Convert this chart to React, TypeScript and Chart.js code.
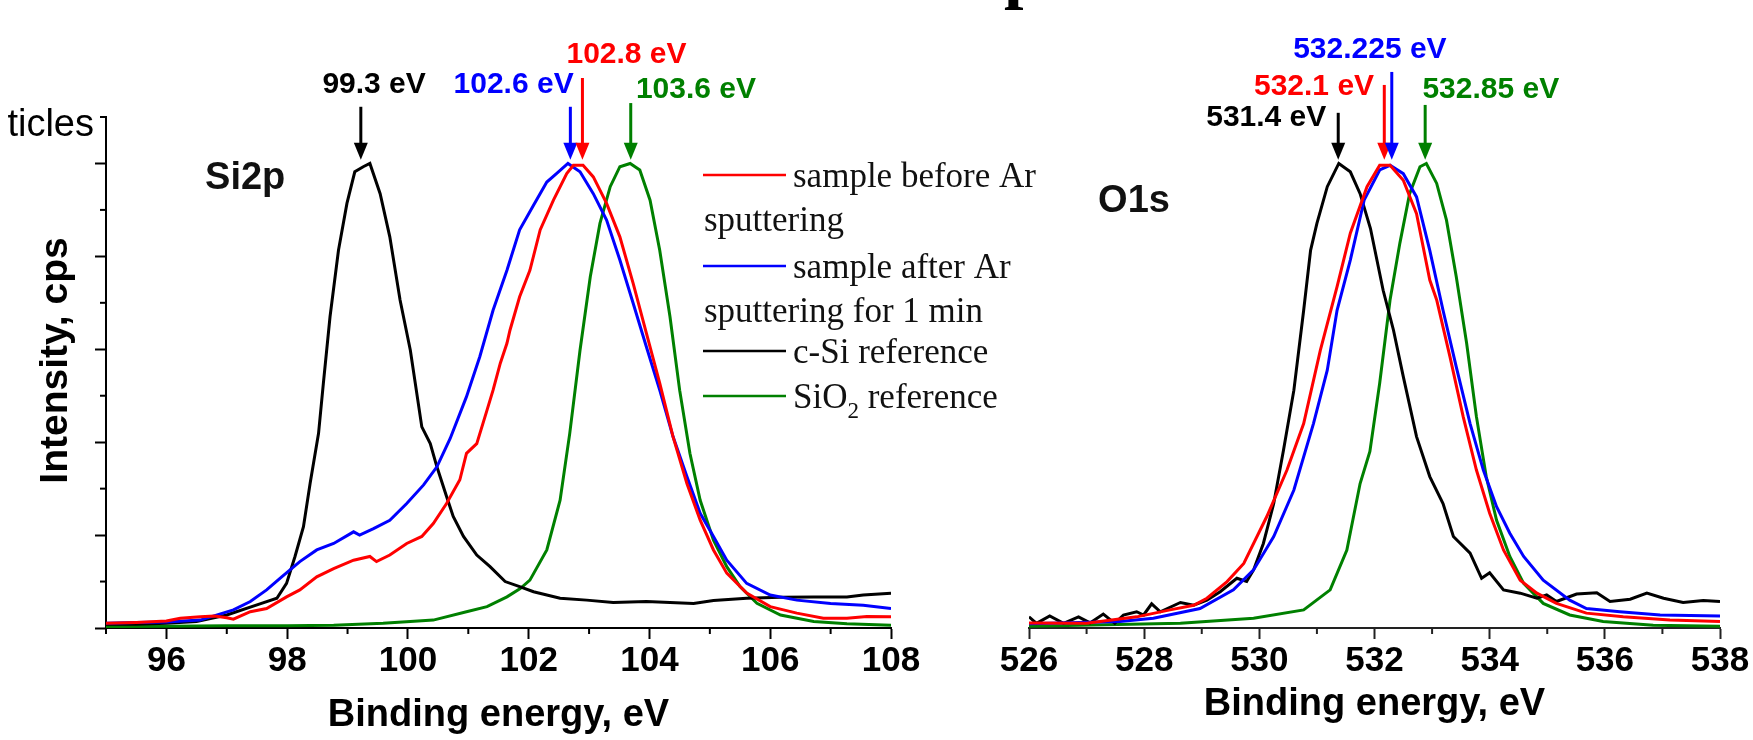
import React, { useEffect, useRef } from 'react';
import { Chart, registerables } from 'chart.js';

Chart.register(...registerables);

type Pt = [number, number];

// ---------- Si2p panel (binding energy eV, normalised intensity) ----------
const siBeforeAr: Pt[] = [
  [95.0, 0.1], [95.5, 0.12], [96.0, 0.15], [96.23, 0.21], [96.56, 0.24], [96.8, 0.26], [97.0, 0.22], [97.11, 0.19],
  [97.39, 0.35], [97.66, 0.42], [97.99, 0.67], [98.21, 0.82], [98.49, 1.1], [98.77, 1.28], [99.1, 1.46], [99.37, 1.54],
  [99.48, 1.43], [99.7, 1.57], [99.98, 1.82], [100.23, 1.97], [100.42, 2.25], [100.64, 2.68], [100.86, 3.19], [100.97, 3.76],
  [101.14, 3.97], [101.31, 4.69], [101.41, 5.12], [101.53, 5.7], [101.64, 6.13], [101.69, 6.41], [101.85, 7.13], [102.02, 7.7],
  [102.19, 8.57], [102.41, 9.21], [102.63, 9.78], [102.74, 9.96], [102.9, 9.96], [103.07, 9.71], [103.29, 9.14], [103.51, 8.42],
  [103.73, 7.42], [103.95, 6.34], [104.17, 5.27], [104.39, 4.12], [104.62, 3.11], [104.84, 2.32], [105.06, 1.68], [105.28, 1.18],
  [105.61, 0.75], [106.0, 0.46], [106.44, 0.32], [106.88, 0.21], [107.27, 0.21], [107.6, 0.25], [108.0, 0.24],
];
const siAfterAr: Pt[] = [
  [95.0, 0.1], [95.5, 0.12], [96.0, 0.13], [96.56, 0.17], [97.11, 0.39], [97.39, 0.57], [97.66, 0.82], [97.91, 1.1],
  [98.21, 1.43], [98.49, 1.68], [98.77, 1.82], [99.1, 2.07], [99.2, 2.0], [99.43, 2.14], [99.7, 2.32], [99.98, 2.68],
  [100.26, 3.08], [100.48, 3.47], [100.7, 4.08], [100.97, 4.98], [101.19, 5.84], [101.41, 6.84], [101.64, 7.7], [101.85, 8.57],
  [102.08, 9.1], [102.3, 9.6], [102.46, 9.78], [102.65, 10.0], [102.85, 9.82], [103.07, 9.35], [103.29, 8.78], [103.51, 7.92],
  [103.73, 6.99], [103.95, 6.05], [104.17, 5.12], [104.39, 4.12], [104.62, 3.26], [104.84, 2.47], [105.06, 1.97], [105.28, 1.46],
  [105.61, 0.96], [106.0, 0.71], [106.44, 0.6], [107.0, 0.53], [107.54, 0.49], [108.0, 0.42],
];
const siCSiRef: Pt[] = [
  [95.0, 0.08], [95.5, 0.08], [96.0, 0.1], [96.5, 0.14], [97.0, 0.28], [97.55, 0.52], [97.83, 0.64], [97.99, 0.96],
  [98.13, 1.54], [98.27, 2.18], [98.38, 3.11], [98.52, 4.19], [98.6, 5.27], [98.71, 6.7], [98.85, 8.13], [98.99, 9.14],
  [99.12, 9.82], [99.26, 9.93], [99.37, 10.0], [99.54, 9.35], [99.7, 8.42], [99.87, 7.06], [100.04, 5.98], [100.23, 4.33],
  [100.37, 3.97], [100.48, 3.47], [100.64, 2.83], [100.75, 2.4], [100.92, 1.97], [101.14, 1.57], [101.36, 1.32], [101.61, 1.0],
  [101.85, 0.89], [102.08, 0.78], [102.52, 0.64], [102.96, 0.6], [103.4, 0.55], [103.95, 0.57], [104.73, 0.53], [105.06, 0.59],
  [105.61, 0.64], [106.17, 0.66], [106.72, 0.67], [107.27, 0.67], [107.54, 0.71], [108.0, 0.75],
];
const siSiO2Ref: Pt[] = [
  [95.0, 0.03], [96.0, 0.04], [97.0, 0.05], [98.0, 0.05], [98.77, 0.06], [99.59, 0.1], [100.42, 0.17], [100.97, 0.35],
  [101.31, 0.46], [101.64, 0.67], [101.86, 0.85], [102.02, 1.03], [102.3, 1.68], [102.52, 2.75], [102.68, 4.19], [102.85, 5.98],
  [103.02, 7.56], [103.18, 8.71], [103.35, 9.5], [103.51, 9.93], [103.68, 10.0], [103.84, 9.86], [104.01, 9.21], [104.17, 8.13],
  [104.34, 6.7], [104.5, 5.12], [104.67, 3.76], [104.84, 2.75], [105.06, 1.89], [105.28, 1.32], [105.5, 0.89], [105.78, 0.53],
  [106.17, 0.28], [106.72, 0.14], [107.27, 0.09], [108.0, 0.06],
];

// ---------- O1s panel ----------
const oBeforeAr: Pt[] = [
  [526.0, 0.11], [527.0, 0.1], [527.87, 0.24], [528.45, 0.39], [528.86, 0.49], [529.09, 0.64], [529.44, 1.0], [529.73, 1.39],
  [530.13, 2.4], [530.48, 3.4], [530.77, 4.4], [531.06, 5.98], [531.35, 7.35], [531.58, 8.5], [531.87, 9.5], [532.09, 9.96],
  [532.27, 9.96], [532.5, 9.64], [532.73, 8.92], [532.96, 7.49], [533.08, 7.06], [533.31, 5.84], [533.54, 4.55], [533.77, 3.4],
  [534.0, 2.47], [534.24, 1.68], [534.53, 1.03], [534.82, 0.75], [535.16, 0.53], [535.68, 0.32], [536.32, 0.24], [537.13, 0.17],
  [538.0, 0.14],
];
const oAfterAr: Pt[] = [
  [526.0, 0.09], [527.58, 0.14], [528.16, 0.21], [528.97, 0.42], [529.55, 0.82], [529.9, 1.25], [530.25, 1.97], [530.6, 2.97],
  [530.94, 4.4], [531.18, 5.55], [531.35, 6.84], [531.58, 7.92], [531.82, 9.21], [532.09, 9.86], [532.27, 9.96], [532.5, 9.78],
  [532.73, 9.28], [532.96, 8.13], [533.19, 6.84], [533.42, 5.62], [533.66, 4.4], [533.89, 3.4], [534.12, 2.61], [534.35, 2.04],
  [534.59, 1.54], [534.93, 1.03], [535.39, 0.6], [535.68, 0.42], [536.26, 0.35], [536.96, 0.28], [538.0, 0.26],
];
const oCSiRef: Pt[] = [
  [526.0, 0.24], [526.13, 0.1], [526.36, 0.26], [526.6, 0.1], [526.86, 0.24], [527.06, 0.11], [527.29, 0.3], [527.49, 0.1],
  [527.64, 0.28], [527.87, 0.35], [527.99, 0.28], [528.13, 0.52], [528.28, 0.35], [528.63, 0.55], [528.86, 0.49], [529.09, 0.6],
  [529.32, 0.78], [529.61, 1.07], [529.78, 1.0], [529.9, 1.25], [530.07, 1.82], [530.25, 2.68], [530.42, 3.83], [530.6, 5.12],
  [530.77, 6.84], [530.89, 8.13], [531.0, 8.71], [531.18, 9.5], [531.38, 10.0], [531.58, 9.82], [531.75, 9.35], [531.93, 8.6],
  [532.15, 7.27], [532.33, 6.41], [532.5, 5.41], [532.73, 4.12], [532.96, 3.26], [533.19, 2.68], [533.37, 1.97], [533.66, 1.61],
  [533.86, 1.07], [534.0, 1.19], [534.24, 0.82], [534.53, 0.75], [534.82, 0.64], [534.99, 0.71], [535.16, 0.57], [535.51, 0.73],
  [535.86, 0.76], [536.09, 0.57], [536.44, 0.62], [536.73, 0.75], [537.02, 0.64], [537.36, 0.55], [537.71, 0.59], [538.0, 0.57],
];
const oSiO2Ref: Pt[] = [
  [526.0, 0.04], [528.63, 0.1], [529.9, 0.21], [530.77, 0.39], [531.23, 0.82], [531.52, 1.68], [531.75, 3.11], [531.92, 3.8],
  [532.09, 5.27], [532.27, 7.06], [532.44, 8.28], [532.61, 9.35], [532.79, 9.93], [532.9, 10.0], [533.08, 9.57], [533.25, 8.78],
  [533.42, 7.56], [533.6, 6.13], [533.77, 4.55], [533.94, 3.26], [534.12, 2.32], [534.35, 1.54], [534.59, 0.96], [534.93, 0.53],
  [535.39, 0.28], [535.97, 0.14], [536.84, 0.06], [538.0, 0.04],
];

const siXRange = [95, 108];
const oXRange = [526, 538];
const yRange = [0, 11];

const seriesNames = [
  'sample before Ar sputtering',
  'sample after Ar sputtering for 1 min',
  'c-Si reference',
  'SiO2 reference',
];

// peak annotations
const siPeakText = ['99.3 eV', '102.6 eV', '102.8 eV', '103.6 eV'];
const siPeakX = [99.22, 102.69, 102.89, 103.69];
const oPeakText = ['531.4 eV', '532.1 eV', '532.225 eV', '532.85 eV'];
const oPeakX = [531.37, 532.17, 532.3, 532.88];

// ---------- styles / layout ----------
const W = 1753;
const H = 740;
const SANS = '"Liberation Sans", Arial, sans-serif';
const SERIF = '"Liberation Serif", "Times New Roman", serif';
const RED = '#ff0000';
const BLUE = '#0000ff';
const BLACK = '#000000';
const GREEN = '#008000';

const siPeakStyle = [
  { color: BLACK, lx: 99.44, ly: 11.69, top: 11.22 },
  { color: BLUE, lx: 101.75, ly: 11.69, top: 11.22 },
  { color: RED, lx: 103.62, ly: 12.34, top: 11.84 },
  { color: GREEN, lx: 104.77, ly: 11.58, top: 11.3 },
];
const oPeakStyle = [
  { color: BLACK, lx: 530.12, ly: 10.98, top: 11.09 },
  { color: RED, lx: 530.95, ly: 11.65, top: 11.69 },
  { color: BLUE, lx: 531.92, ly: 12.44, top: 11.97 },
  { color: GREEN, lx: 534.02, ly: 11.58, top: 11.26 },
];
const ARROW_TIP = 10.08;

const isMajor = (v: number) => Math.round(v) % 2 === 0;

function makeDecor(spec: any) {
  return {
    id: 'xpsDecor',
    afterDraw(chart: any) {
      const ctx: CanvasRenderingContext2D = chart.ctx;
      const xs = chart.scales.x;
      const ys = chart.scales.y;
      ctx.save();
      const line = (x1: number, y1: number, x2: number, y2: number) => {
        ctx.beginPath();
        ctx.moveTo(x1, y1);
        ctx.lineTo(x2, y2);
        ctx.stroke();
      };
      // minor ticks
      ctx.strokeStyle = spec.axisColor;
      ctx.lineWidth = 2;
      xs.ticks.forEach((t: any) => {
        if (!isMajor(t.value)) {
          const px = xs.getPixelForValue(t.value);
          line(px, xs.top, px, xs.top + 6);
        }
      });
      if (ys.options.display) {
        ys.ticks.forEach((t: any) => {
          if (!isMajor(t.value)) {
            const py = ys.getPixelForValue(t.value);
            line(ys.right - 6, py, ys.right, py);
          }
        });
      }
      // peak arrows + labels
      spec.peakX.forEach((px0: number, i: number) => {
        const st = spec.peakStyle[i];
        const px = xs.getPixelForValue(px0);
        const top = ys.getPixelForValue(st.top);
        const tip = ys.getPixelForValue(ARROW_TIP);
        ctx.strokeStyle = st.color;
        ctx.fillStyle = st.color;
        ctx.lineWidth = 3;
        line(px, top, px, tip - 14);
        ctx.beginPath();
        ctx.moveTo(px - 7, tip - 17);
        ctx.lineTo(px + 7, tip - 17);
        ctx.lineTo(px, tip);
        ctx.closePath();
        ctx.fill();
        ctx.font = `bold 30px ${SANS}`;
        ctx.textAlign = 'center';
        ctx.textBaseline = 'middle';
        ctx.fillText(spec.peakText[i], xs.getPixelForValue(st.lx), ys.getPixelForValue(st.ly));
      });
      // panel label
      ctx.fillStyle = '#111';
      ctx.font = `bold 38px ${SANS}`;
      ctx.textAlign = 'left';
      ctx.textBaseline = 'alphabetic';
      ctx.fillText(spec.panelLabel.text, xs.getPixelForValue(spec.panelLabel.x), ys.getPixelForValue(spec.panelLabel.y));
      // y axis title
      if (spec.yTitle) {
        ctx.save();
        ctx.translate(spec.yTitle.x, (chart.chartArea.top + chart.chartArea.bottom) / 2 - 12);
        ctx.rotate(-Math.PI / 2);
        ctx.font = `bold 39px ${SANS}`;
        ctx.textAlign = 'center';
        ctx.textBaseline = 'middle';
        ctx.fillStyle = '#000';
        ctx.fillText(spec.yTitle.text, 0, 0);
        ctx.restore();
      }
      // legend
      if (spec.legend) {
        const lg = spec.legend;
        ctx.font = `35px ${SERIF}`;
        ctx.textBaseline = 'alphabetic';
        ctx.textAlign = 'left';
        let row = 0;
        lg.items.forEach((it: any) => {
          const base = lg.baseline0 + row * lg.rowStep + (it.extraShift || 0);
          ctx.strokeStyle = it.color;
          ctx.lineWidth = 2.5;
          line(lg.lineX0, base - 12, lg.lineX1, base - 12);
          ctx.fillStyle = '#111';
          if (it.sub) {
            let x = lg.textX;
            ctx.font = `35px ${SERIF}`;
            ctx.fillText(it.lines[0], x, base);
            x += ctx.measureText(it.lines[0]).width;
            ctx.font = `23px ${SERIF}`;
            ctx.fillText(it.sub, x, base + 10);
            x += ctx.measureText(it.sub).width;
            ctx.font = `35px ${SERIF}`;
            ctx.fillText(it.after, x, base);
            row += 1;
          } else {
            it.lines.forEach((t: string, k: number) => {
              ctx.fillText(t, k === 0 ? lg.textX : lg.wrapX, base + k * lg.rowStep);
            });
            row += it.lines.length;
          }
        });
      }
      // clipped texts from the surrounding figure
      (spec.extraTexts || []).forEach((t: any) => {
        ctx.font = t.font;
        ctx.fillStyle = '#000';
        ctx.textAlign = t.align;
        ctx.textBaseline = 'alphabetic';
        ctx.fillText(t.text, t.x, t.y);
      });
      ctx.restore();
    },
  };
}

function axisX(range: number[], titlePadBottom: number, axisColor: string) {
  return {
    type: 'linear',
    min: range[0],
    max: range[1],
    ticks: {
      stepSize: 1,
      autoSkip: false,
      maxRotation: 0,
      minRotation: 0,
      padding: 1,
      color: '#000',
      font: { family: SANS, size: 35, weight: 'bold' },
      callback: (v: any) => (isMajor(Number(v)) ? String(v) : ''),
    },
    grid: {
      drawOnChartArea: false,
      drawTicks: true,
      tickLength: 11,
      tickWidth: 2,
      tickColor: (c: any) => (c.tick && isMajor(c.tick.value) ? axisColor : 'rgba(0,0,0,0)'),
    },
    border: { display: true, color: axisColor, width: 2 },
    title: {
      display: true,
      text: 'Binding energy, eV',
      color: '#000',
      font: { family: SANS, size: 38, weight: 'bold' },
      padding: { top: 0, bottom: titlePadBottom },
    },
    afterFit: (s: any) => {
      s.height = 112;
    },
  };
}

function makeDatasets(a: Pt[], b: Pt[], c: Pt[], d: Pt[]) {
  const cols = [RED, BLUE, BLACK, GREEN];
  return [a, b, c, d].map((arr, i) => ({
    label: seriesNames[i],
    data: arr.map(([x, y]) => ({ x, y })),
    borderColor: cols[i],
    backgroundColor: cols[i],
    borderWidth: 3,
    pointRadius: 0,
    fill: false,
    tension: 0,
  }));
}

function leftConfig(): any {
  const decor = makeDecor({
    axisColor: '#000',
    peakX: siPeakX,
    peakText: siPeakText,
    peakStyle: siPeakStyle,
    panelLabel: { text: 'Si2p', x: 96.64, y: 9.45 },
    yTitle: { text: 'Intensity, cps', x: 56 },
    legend: {
      lineX0: 703,
      lineX1: 786,
      textX: 793,
      wrapX: 704,
      baseline0: 187,
      rowStep: 44,
      items: [
        { color: RED, lines: ['sample before Ar', 'sputtering'] },
        { color: BLUE, lines: ['sample after Ar', 'sputtering for 1 min'], extraShift: 3 },
        { color: BLACK, lines: ['c-Si reference'], extraShift: 0 },
        { color: GREEN, lines: ['SiO'], sub: '2', after: ' reference', extraShift: 1 },
      ],
    },
    extraTexts: [{ text: 'ticles', x: 94, y: 136, align: 'right', font: `38px ${SANS}` }],
  });
  return {
    type: 'line',
    data: { datasets: makeDatasets(siBeforeAr, siAfterAr, siCSiRef, siSiO2Ref) },
    plugins: [decor],
    options: {
      responsive: false,
      animation: false,
      events: [],
      layout: { padding: { left: 10, right: W - 891, top: 117, bottom: 0 } },
      plugins: { legend: { display: false }, tooltip: { enabled: false }, title: { display: false } },
      scales: {
        x: axisX(siXRange, 2, '#000'),
        y: {
          type: 'linear',
          min: yRange[0],
          max: yRange[1],
          ticks: { stepSize: 1, display: false },
          grid: {
            drawOnChartArea: false,
            drawTicks: true,
            tickLength: 11,
            tickWidth: 2,
            tickColor: (c: any) => (c.tick && isMajor(c.tick.value) ? '#000' : 'rgba(0,0,0,0)'),
          },
          border: { display: true, color: '#000', width: 2 },
          afterFit: (s: any) => {
            s.width = 96;
          },
        },
      },
    },
  };
}

function rightConfig(): any {
  const decor = makeDecor({
    axisColor: '#222',
    peakX: oPeakX,
    peakText: oPeakText,
    peakStyle: oPeakStyle,
    panelLabel: { text: 'O1s', x: 527.2, y: 8.96 },
    extraTexts: [{ text: 'p', x: 1004, y: -5, align: 'left', font: `bold 70px ${SERIF}` }],
  });
  return {
    type: 'line',
    data: { datasets: makeDatasets(oBeforeAr, oAfterAr, oCSiRef, oSiO2Ref) },
    plugins: [decor],
    options: {
      responsive: false,
      animation: false,
      events: [],
      layout: { padding: { left: 1029, right: W - 1720, top: 117, bottom: 0 } },
      plugins: { legend: { display: false }, tooltip: { enabled: false }, title: { display: false } },
      scales: {
        x: axisX(oXRange, 13, '#222'),
        y: { type: 'linear', display: false, min: yRange[0], max: yRange[1] },
      },
    },
  };
}

export default function App() {
  const leftRef = useRef<HTMLCanvasElement>(null);
  const rightRef = useRef<HTMLCanvasElement>(null);
  useEffect(() => {
    const c1 = new Chart(leftRef.current as HTMLCanvasElement, leftConfig());
    const c2 = new Chart(rightRef.current as HTMLCanvasElement, rightConfig());
    return () => {
      c1.destroy();
      c2.destroy();
    };
  }, []);
  return (
    <div style={{ position: 'fixed', left: 0, top: 0, width: W, height: H, background: '#fff' }}>
      <canvas ref={leftRef} width={W} height={H} style={{ position: 'absolute', left: 0, top: 0 }} />
      <canvas ref={rightRef} width={W} height={H} style={{ position: 'absolute', left: 0, top: 0 }} />
    </div>
  );
}
